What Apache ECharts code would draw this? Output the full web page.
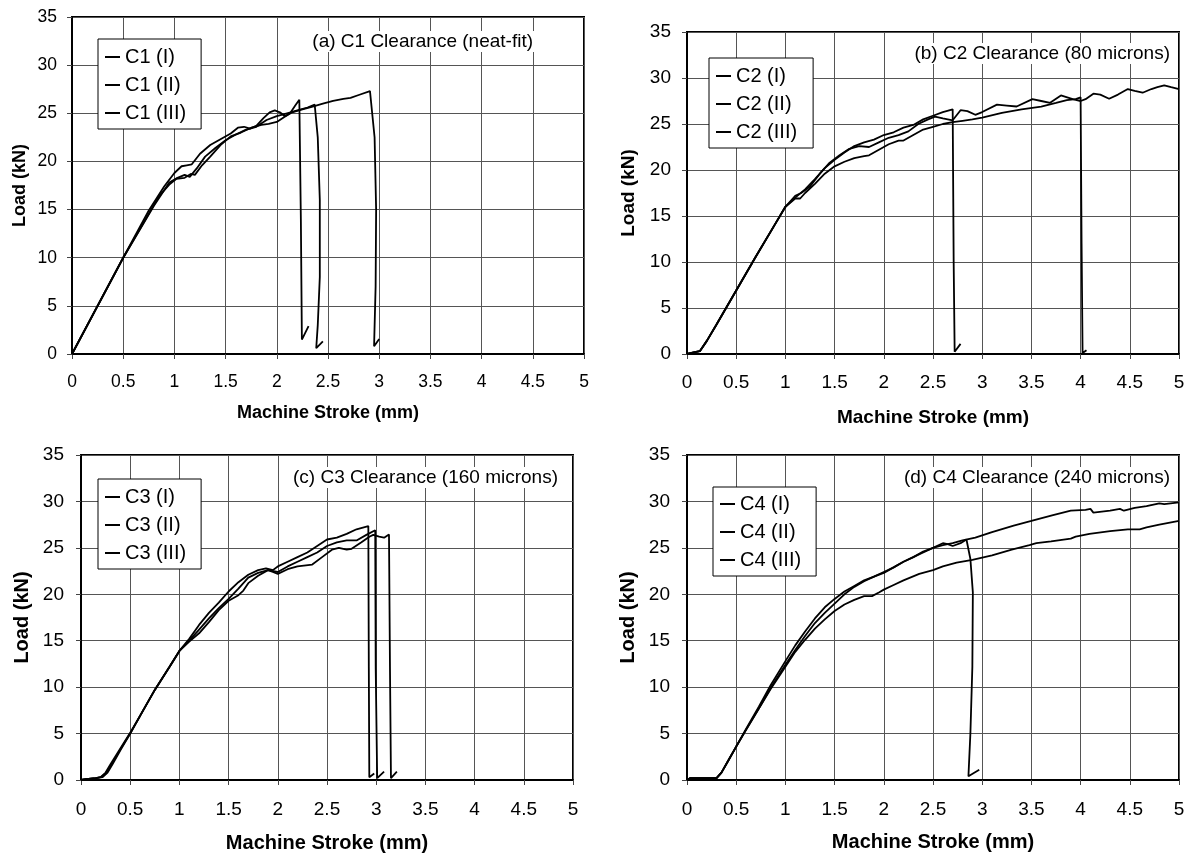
<!DOCTYPE html>
<html><head><meta charset="utf-8">
<script src="https://cdn.jsdelivr.net/npm/echarts@6/dist/echarts.min.js"></script>
<style>html,body{margin:0;padding:0;background:#fff}#chart{width:1191px;height:854px}</style>
</head><body><div id="chart"></div>
<script>
// ---------- DATA (Machine stroke mm, Load kN) ----------
const c1_I = [[0,0],[0.25,5.0],[0.5,10.0],[0.75,14.9],[0.9,17.4],[1.0,18.8],[1.07,19.5],[1.12,19.6],[1.17,19.7],[1.25,20.8],[1.35,21.7],[1.45,22.3],[1.55,22.9],[1.62,23.5],[1.68,23.6],[1.74,23.4],[1.8,23.7],[1.87,24.5],[1.93,25.1],[1.98,25.3],[2.03,25.1],[2.08,24.7],[2.13,25.0],[2.18,25.8],[2.22,26.4],[2.235,14],[2.245,1.5],[2.31,2.9]];
const c1_II = [[0,0],[0.5,10.0],[0.8,15.4],[0.95,17.8],[1.03,18.3],[1.1,18.6],[1.15,18.4],[1.22,19.3],[1.3,20.5],[1.4,21.4],[1.5,22.2],[1.6,22.8],[1.7,23.3],[1.8,23.6],[1.9,24.3],[2.0,24.7],[2.1,25.0],[2.2,25.3],[2.3,25.6],[2.37,25.9],[2.40,22.5],[2.42,16],[2.42,8],[2.40,3],[2.385,0.6],[2.45,1.3]];
const c1_III = [[0,0],[0.5,10.0],[0.85,16.4],[0.95,17.6],[1.02,18.2],[1.1,18.3],[1.16,18.7],[1.2,18.6],[1.27,19.6],[1.35,20.5],[1.45,21.7],[1.55,22.6],[1.65,23.0],[1.75,23.5],[1.85,23.8],[1.92,23.9],[2.0,24.1],[2.07,24.6],[2.15,25.1],[2.25,25.4],[2.35,25.7],[2.45,26.0],[2.55,26.3],[2.65,26.5],[2.72,26.6],[2.8,26.9],[2.91,27.3],[2.955,22.5],[2.97,15],[2.965,7],[2.95,0.8],[3.0,1.55]];

const c2_I = [[0,0],[0.08,0.2],[0.13,0.3],[0.2,1.4],[0.3,3.2],[0.5,6.9],[0.7,10.6],[0.9,14.2],[1.0,16.0],[1.1,17.0],[1.2,17.9],[1.3,19.0],[1.4,20.2],[1.5,21.1],[1.6,21.9],[1.7,22.6],[1.8,23.0],[1.9,23.3],[2.0,23.8],[2.1,24.1],[2.2,24.6],[2.3,24.9],[2.4,25.5],[2.5,25.9],[2.6,26.3],[2.7,26.6],[2.71,10],[2.72,0.25],[2.78,1.1]];
const c2_II = [[0,0],[0.08,0.2],[0.13,0.3],[0.2,1.4],[0.3,3.2],[0.5,6.9],[0.7,10.6],[0.9,14.2],[1.0,16.0],[1.1,17.2],[1.16,17.5],[1.25,18.2],[1.35,19.6],[1.45,20.8],[1.55,21.6],[1.65,22.3],[1.75,22.6],[1.85,22.5],[1.95,23.0],[2.05,23.5],[2.15,23.8],[2.25,24.2],[2.35,25.0],[2.45,25.5],[2.52,25.8],[2.6,25.6],[2.7,25.4],[2.78,26.5],[2.85,26.4],[2.93,26.0],[3.0,26.3],[3.15,27.1],[3.25,27.0],[3.35,26.9],[3.51,27.7],[3.6,27.5],[3.69,27.3],[3.8,28.1],[3.92,27.7],[4.0,27.5],[4.05,27.7],[4.13,28.3],[4.2,28.2],[4.29,27.75],[4.38,28.2],[4.48,28.8],[4.55,28.6],[4.63,28.4],[4.72,28.8],[4.78,29.0],[4.85,29.2],[4.92,29.0],[5.0,28.8]];
const c2_III = [[0,0],[0.08,0.2],[0.13,0.3],[0.2,1.4],[0.3,3.2],[0.5,6.9],[0.7,10.6],[0.9,14.2],[1.0,16.0],[1.1,16.9],[1.15,16.9],[1.2,17.5],[1.3,18.5],[1.4,19.6],[1.5,20.4],[1.6,20.9],[1.7,21.3],[1.8,21.5],[1.85,21.6],[1.95,22.2],[2.05,22.8],[2.15,23.2],[2.2,23.2],[2.3,23.8],[2.4,24.4],[2.5,24.7],[2.6,25.0],[2.7,25.2],[2.8,25.35],[2.9,25.5],[3.0,25.7],[3.2,26.2],[3.4,26.6],[3.6,26.9],[3.75,27.3],[3.86,27.6],[3.95,27.7],[4.0,27.9],[4.01,12],[4.02,0.1],[4.06,0.4]];

const c3_I = [[0,0],[0.05,0.1],[0.15,0.2],[0.2,0.3],[0.25,0.8],[0.3,1.7],[0.4,3.4],[0.5,5.1],[0.6,6.9],[0.75,9.7],[0.9,12.2],[1.0,13.9],[1.1,15.2],[1.2,16.7],[1.3,18.0],[1.4,19.1],[1.5,20.3],[1.6,21.3],[1.7,22.1],[1.8,22.6],[1.88,22.8],[1.95,22.6],[2.0,23.0],[2.1,23.5],[2.2,24.0],[2.3,24.5],[2.4,25.2],[2.5,25.9],[2.6,26.1],[2.7,26.5],[2.8,27.0],[2.92,27.35],[2.925,12],[2.93,0.3],[2.98,0.7]];
const c3_II = [[0,0],[0.05,0.1],[0.15,0.2],[0.2,0.3],[0.25,0.7],[0.3,1.5],[0.4,3.3],[0.5,5.0],[0.6,6.9],[0.75,9.7],[0.9,12.2],[1.0,13.9],[1.1,15.0],[1.2,16.2],[1.3,17.4],[1.4,18.5],[1.5,19.5],[1.6,20.6],[1.7,21.8],[1.8,22.3],[1.9,22.6],[2.0,22.4],[2.1,23.0],[2.2,23.5],[2.3,24.0],[2.4,24.5],[2.5,25.2],[2.6,25.6],[2.7,25.8],[2.8,25.8],[2.9,26.4],[2.99,26.9],[2.995,12],[3.01,0.2],[3.08,0.9]];
const c3_III = [[0,0],[0.05,0.1],[0.15,0.2],[0.22,0.3],[0.27,0.8],[0.32,1.7],[0.4,3.2],[0.5,5.0],[0.6,6.9],[0.75,9.7],[0.9,12.2],[1.0,13.9],[1.1,14.9],[1.2,15.8],[1.3,17.0],[1.4,18.3],[1.5,19.3],[1.6,19.9],[1.65,20.4],[1.7,21.2],[1.8,22.0],[1.9,22.6],[1.95,22.4],[2.0,22.2],[2.1,22.7],[2.2,23.0],[2.35,23.2],[2.45,24.0],[2.55,24.8],[2.62,25.0],[2.7,24.8],[2.75,24.9],[2.85,25.6],[2.93,26.2],[2.97,26.4],[3.03,26.2],[3.08,26.1],[3.13,26.45],[3.14,12],[3.15,0.2],[3.21,0.9]];

const c4_I = [[0,0],[0.03,0.2],[0.3,0.2],[0.35,0.8],[0.42,2.1],[0.5,3.6],[0.6,5.4],[0.73,7.7],[0.85,9.9],[1.0,12.4],[1.1,14.0],[1.2,15.5],[1.3,16.9],[1.4,18.0],[1.5,19.0],[1.6,20.0],[1.7,20.8],[1.8,21.4],[1.9,21.9],[2.0,22.3],[2.1,22.9],[2.2,23.5],[2.3,24.0],[2.4,24.5],[2.5,25.0],[2.6,25.5],[2.65,25.4],[2.7,25.2],[2.78,25.5],[2.84,25.9],[2.88,23.8],[2.905,20.2],[2.9,12.2],[2.88,5],[2.86,0.4],[2.97,1.1]];
const c4_II = [[0,0],[0.03,0.2],[0.3,0.2],[0.35,0.8],[0.42,2.1],[0.5,3.6],[0.6,5.5],[0.73,7.9],[0.85,10.2],[1.0,12.8],[1.1,14.5],[1.2,16.0],[1.3,17.4],[1.4,18.6],[1.5,19.5],[1.6,20.3],[1.7,20.9],[1.8,21.5],[1.9,21.9],[2.0,22.4],[2.1,22.9],[2.2,23.5],[2.3,24.0],[2.4,24.6],[2.5,25.0],[2.6,25.3],[2.7,25.5],[2.8,25.8],[2.93,26.1],[3.1,26.7],[3.32,27.4],[3.5,27.9],[3.71,28.5],[3.9,29.0],[4.05,29.1],[4.1,29.2],[4.13,28.8],[4.3,29.0],[4.4,29.2],[4.42,29.4],[4.44,29.0],[4.55,29.3],[4.67,29.5],[4.8,29.8],[4.85,29.7],[5.0,29.9]];
const c4_III = [[0,0],[0.03,0.2],[0.3,0.2],[0.35,0.8],[0.42,2.1],[0.5,3.6],[0.6,5.4],[0.73,7.7],[0.85,9.8],[1.0,12.2],[1.1,13.8],[1.2,15.1],[1.3,16.3],[1.4,17.3],[1.5,18.2],[1.6,18.9],[1.7,19.4],[1.8,19.8],[1.88,19.8],[1.95,20.2],[2.0,20.5],[2.1,21.0],[2.2,21.5],[2.36,22.2],[2.5,22.6],[2.6,23.0],[2.74,23.4],[2.9,23.7],[3.1,24.2],[3.3,24.8],[3.48,25.3],[3.55,25.5],[3.57,25.3],[3.7,25.7],[3.9,26.0],[3.92,25.8],[3.95,26.2],[4.09,26.5],[4.3,26.8],[4.48,27.0],[4.6,27.0],[4.67,27.2],[4.8,27.5],[5.0,27.9]];

const panelTitles = ['(a) C1 Clearance (neat-fit)', '(b) C2 Clearance (80 microns)', '(c) C3 Clearance (160 microns)', '(d) C4 Clearance (240 microns)'];
const seriesNames = [['C1 (I)','C1 (II)','C1 (III)'], ['C2 (I)','C2 (II)','C2 (III)'], ['C3 (I)','C3 (II)','C3 (III)'], ['C4 (I)','C4 (II)','C4 (III)']];
const seriesData = [[c1_I, c1_II, c1_III], [c2_I, c2_II, c2_III], [c3_I, c3_II, c3_III], [c4_I, c4_II, c4_III]];
const xAxisName = 'Machine Stroke (mm)';
const yAxisName = 'Load (kN)';
const xRange = [0, 5], xStep = 0.5;
const yRange = [0, 35], yStep = 5;

// ---------- LAYOUT ----------
const FONT = '"Liberation Sans", Arial, Helvetica, sans-serif';
const layout = [
  {left:72,  top:17,  width:512, height:337, tick:17.5, xm:19,   ym:15, nameSize:18, xGap:50, yGap:43, legL:98,  legT:39,  legPad:[8,15,6,7], annR:656, annT:31},
  {left:687, top:32,  width:492, height:322, tick:19,   xm:19,   ym:16, nameSize:19, xGap:54, yGap:49, legL:709, legT:58,  legPad:[8,16,6,7], annR:19,  annT:43},
  {left:81,  top:455, width:492, height:325, tick:19,   xm:20,   ym:17, nameSize:20, xGap:53, yGap:49, legL:98,  legT:479, legPad:[8,15,6,7], annR:631, annT:467},
  {left:687, top:455, width:492, height:325, tick:19,   xm:20,   ym:17, nameSize:20, xGap:52, yGap:49, legL:713, legT:487, legPad:[7,15,6,7], annR:19,  annT:467}
];

const grids = [], xAxes = [], yAxes = [], legends = [], series = [], graphics = [];
layout.forEach((L, i) => {
  grids.push({left:L.left, top:L.top, width:L.width, height:L.height, show:true, borderColor:'#000', borderWidth:2, backgroundColor:'transparent', containLabel:false});
  xAxes.push({
    gridIndex:i, type:'value', min:xRange[0], max:xRange[1], interval:xStep,
    axisLine:{show:true, onZero:false, lineStyle:{color:'#000', width:2}},
    axisTick:{show:true, inside:false, length:5, lineStyle:{color:'#444'}},
    splitLine:{show:true, lineStyle:{color:'#555', width:1}},
    axisLabel:{color:'#000', fontSize:L.tick, fontFamily:FONT, margin:L.xm},
    name:xAxisName, nameLocation:'middle', nameGap:L.xGap,
    nameTextStyle:{color:'#000', fontWeight:'bold', fontSize:L.nameSize, fontFamily:FONT}
  });
  yAxes.push({
    gridIndex:i, type:'value', min:yRange[0], max:yRange[1], interval:yStep,
    axisLine:{show:true, onZero:false, lineStyle:{color:'#000', width:2}},
    axisTick:{show:true, inside:false, length:5, lineStyle:{color:'#444'}},
    splitLine:{show:true, lineStyle:{color:'#555', width:1}},
    axisLabel:{color:'#000', fontSize:L.tick, fontFamily:FONT, margin:L.ym},
    name:yAxisName, nameLocation:'middle', nameGap:L.yGap,
    nameTextStyle:{color:'#000', fontWeight:'bold', fontSize:L.nameSize, fontFamily:FONT}
  });
  legends.push({
    data:seriesNames[i], orient:'vertical', left:L.legL, top:L.legT,
    backgroundColor:'#fff', borderColor:'#000', borderWidth:1, padding:L.legPad,
    icon:'rect', itemWidth:15, itemHeight:2, itemGap:8, selectedMode:false,
    textStyle:{color:'#000', fontSize:20, fontFamily:FONT}
  });
  seriesNames[i].forEach((nm, j) => {
    series.push({
      name:nm, type:'line', xAxisIndex:i, yAxisIndex:i, data:seriesData[i][j],
      showSymbol:false, symbol:'none', smooth:false, animation:false, z:3,
      lineStyle:{color:'#000', width:1.8}, itemStyle:{color:'#000'}
    });
  });
  graphics.push({
    type:'text', right:L.annR, top:L.annT, z:100,
    style:{text:panelTitles[i], font:'19px ' + FONT, fill:'#000', backgroundColor:'#fff', padding:[1,2]}
  });
});

const chart = echarts.init(document.getElementById('chart'), null, {renderer:'canvas'});
chart.setOption({
  backgroundColor:'#fff', animation:false,
  grid:grids, xAxis:xAxes, yAxis:yAxes, legend:legends, series:series, graphic:graphics
});
</script>
</body></html>
